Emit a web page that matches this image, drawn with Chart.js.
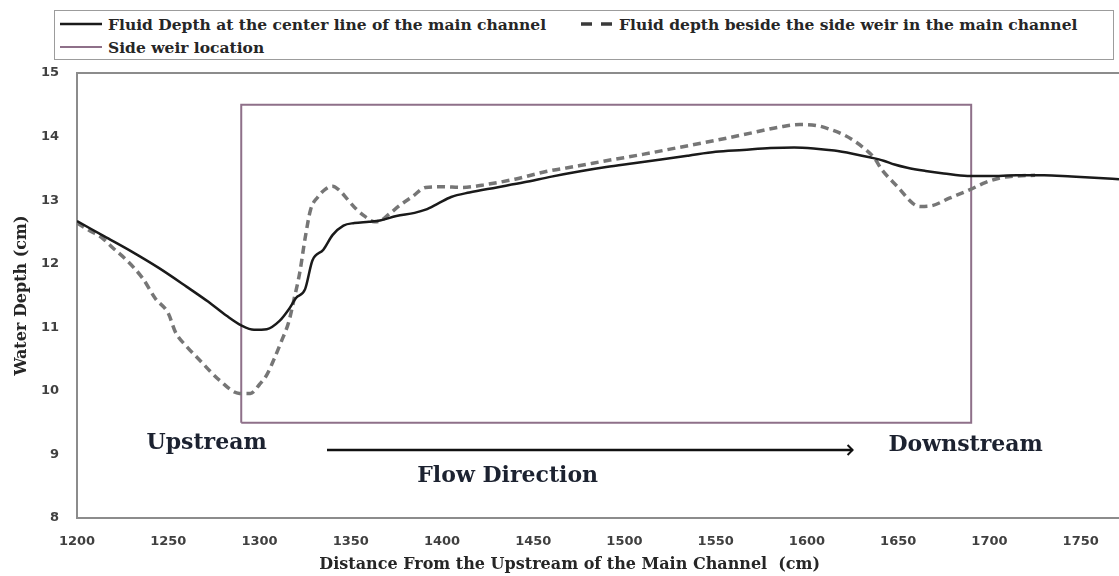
<!DOCTYPE html>
<html>
<head>
<meta charset="utf-8">
<title>Water depth along the main channel</title>
<script src="https://cdn.jsdelivr.net/npm/chart.js@4.4.1/dist/chart.umd.min.js"></script>
<style>
  body { margin: 0; background: #fff; }
  .wrap { position: relative; width: 1119px; height: 576px; }
  #legend {
    position: absolute; left: 54px; top: 10px; width: 1060px; height: 50px;
    box-sizing: border-box; border: 1.5px solid #9c9c9c; background: #fff;
    font: bold 15.5px 'DejaVu Serif', serif; color: #262626;
  }
  #legend .item { position: absolute; display: flex; align-items: center; white-space: nowrap; height: 20px; }
  #legend svg { margin-right: 6px; }
</style>
</head>
<body>
<div class="wrap">
  <canvas id="depthChart" width="1119" height="576"></canvas>
  <div id="legend"></div>
</div>
<script>
// distance from upstream (cm) and depth (cm) along the centre line
const centerX = [1200, 1215, 1230, 1245, 1260, 1272, 1282, 1290, 1297, 1304, 1311, 1316, 1320, 1325,
  1329, 1335, 1340, 1346, 1352, 1360, 1366, 1375, 1385, 1391, 1398, 1405, 1415, 1430, 1445, 1460,
  1475, 1490, 1505, 1520, 1535, 1550, 1565, 1580, 1593, 1605, 1615, 1625, 1635, 1642, 1648, 1655,
  1665, 1675, 1688, 1700, 1715, 1730, 1745, 1760, 1771];
const centerDepth = [12.67, 12.43, 12.19, 11.93, 11.64, 11.40, 11.18, 11.03, 10.96, 10.97, 11.10, 11.28, 11.46, 11.60,
  12.05, 12.22, 12.45, 12.60, 12.64, 12.66, 12.68, 12.75, 12.80, 12.85, 12.95, 13.05, 13.12, 13.20, 13.28, 13.37,
  13.45, 13.52, 13.58, 13.64, 13.70, 13.76, 13.79, 13.82, 13.83, 13.81, 13.78, 13.73, 13.67, 13.62, 13.56, 13.51,
  13.46, 13.42, 13.38, 13.38, 13.39, 13.39, 13.37, 13.35, 13.33];

// depth beside the side weir
const sideX = [1200, 1207, 1214, 1220, 1227, 1236, 1243, 1250, 1254, 1260, 1267, 1278, 1289, 1295, 1300,
  1304, 1308, 1312, 1316, 1319, 1322, 1325, 1328, 1332, 1336, 1340, 1344, 1348, 1353, 1358, 1363,
  1366, 1371, 1377, 1384, 1391, 1400, 1411, 1425, 1440, 1457, 1475, 1490, 1510, 1530, 1550, 1570,
  1585, 1596, 1606, 1614, 1620, 1626, 1632, 1637, 1641, 1650, 1658, 1662, 1668, 1678, 1689, 1698,
  1706, 1715, 1725];
const sideDepth = [12.64, 12.52, 12.40, 12.24, 12.06, 11.77, 11.45, 11.22, 10.92, 10.70, 10.49, 10.17, 9.96, 9.96, 10.10,
  10.25, 10.50, 10.78, 11.08, 11.45, 11.85, 12.40, 12.85, 13.05, 13.17, 13.22, 13.15, 13.02, 12.86, 12.74, 12.66,
  12.67, 12.78, 12.92, 13.06, 13.20, 13.21, 13.20, 13.25, 13.33, 13.45, 13.54, 13.62, 13.72, 13.83, 13.94, 14.06,
  14.15, 14.19, 14.17, 14.10, 14.03, 13.93, 13.80, 13.66, 13.48, 13.20, 12.95, 12.90, 12.91, 13.03, 13.16, 13.28,
  13.35, 13.38, 13.39];

// outline of the side weir
const weirX = [1290, 1290, 1690, 1690, 1290];
const weirDepth = [9.5, 14.5, 14.5, 9.5, 9.5];

const xTicks = [1200, 1250, 1300, 1350, 1400, 1450, 1500, 1550, 1600, 1650, 1700, 1750];
const yTicks = [8, 9, 10, 11, 12, 13, 14, 15];

const labels = [
  'Fluid Depth at the center line of the main channel',
  'Fluid depth beside the side weir in the main channel',
  'Side weir location'
];

function toPoints(xs, ys) {
  return xs.map((x, i) => ({ x: x, y: ys[i] }));
}

const tickFont = { family: "'DejaVu Sans', sans-serif", size: 13, weight: 'bold' };
const titleFont = { family: "'DejaVu Serif', serif", weight: 'bold' };

// grey frame on top, left and bottom of the plot
const framePlugin = {
  id: 'frame',
  beforeDatasetsDraw(chart) {
    const { ctx, chartArea: a } = chart;
    ctx.save();
    ctx.strokeStyle = '#8c8c8c';
    ctx.lineWidth = 2;
    ctx.beginPath();
    ctx.moveTo(a.right + 2, a.top);
    ctx.lineTo(a.left, a.top);
    ctx.lineTo(a.left, a.bottom);
    ctx.lineTo(a.right + 2, a.bottom);
    ctx.stroke();
    ctx.restore();
  }
};

// axis title under the ticks, upstream / downstream labels and the flow arrow
const notesPlugin = {
  id: 'notes',
  afterDraw(chart) {
    const { ctx, scales: { x, y } } = chart;
    ctx.save();
    ctx.textAlign = 'center';
    ctx.textBaseline = 'middle';

    ctx.fillStyle = '#262626';
    ctx.font = "bold 16px 'DejaVu Serif', serif";
    ctx.fillText('Distance From the Upstream of the Main Channel  (cm)', x.getPixelForValue(1470), x.bottom - 11);

    ctx.fillStyle = '#1c2230';
    ctx.font = "bold 22px 'DejaVu Serif', serif";
    ctx.fillText('Upstream', x.getPixelForValue(1271), y.getPixelForValue(9.18));
    ctx.fillText('Downstream', x.getPixelForValue(1687), y.getPixelForValue(9.14));
    ctx.fillText('Flow Direction', x.getPixelForValue(1436), y.getPixelForValue(8.65));

    const x0 = x.getPixelForValue(1337);
    const x1 = x.getPixelForValue(1625);
    const ay = y.getPixelForValue(9.07);
    ctx.strokeStyle = '#111';
    ctx.lineWidth = 2.5;
    ctx.beginPath();
    ctx.moveTo(x0, ay);
    ctx.lineTo(x1, ay);
    ctx.stroke();
    ctx.lineWidth = 2;
    ctx.beginPath();
    ctx.moveTo(x1 - 5, ay - 5);
    ctx.lineTo(x1, ay);
    ctx.lineTo(x1 - 5, ay + 5);
    ctx.stroke();
    ctx.restore();
  }
};

const chart = new Chart(document.getElementById('depthChart'), {
  type: 'line',
  data: {
    datasets: [
      {
        label: labels[0],
        data: toPoints(centerX, centerDepth),
        borderColor: '#1a1a1a',
        borderWidth: 2.5,
        cubicInterpolationMode: 'monotone'
      },
      {
        label: labels[1],
        data: toPoints(sideX, sideDepth),
        borderColor: '#767676',
        borderWidth: 3.5,
        borderDash: [8, 5],
        cubicInterpolationMode: 'monotone'
      },
      {
        label: labels[2],
        data: toPoints(weirX, weirDepth),
        borderColor: '#8e7089',
        borderWidth: 2,
        tension: 0
      }
    ]
  },
  options: {
    responsive: false,
    animation: false,
    layout: { padding: { top: 73, right: 0, bottom: 0, left: 0 } },
    elements: { point: { radius: 0 } },
    plugins: {
      legend: { display: false },
      tooltip: { enabled: false }
    },
    scales: {
      x: {
        type: 'linear',
        min: 1200,
        max: 1771,
        grid: { display: false },
        border: { display: false },
        afterBuildTicks: axis => { axis.ticks = xTicks.map(v => ({ value: v })); },
        afterFit: axis => { axis.height = 58; },
        ticks: {
          font: tickFont,
          color: '#404040',
          padding: 8,
          maxRotation: 0,
          callback: v => String(v)
        }
      },
      y: {
        min: 8,
        max: 15,
        grid: { display: false },
        border: { display: false },
        afterBuildTicks: axis => { axis.ticks = yTicks.map(v => ({ value: v })); },
        afterFit: axis => { axis.width = 77; },
        ticks: { font: tickFont, color: '#404040', padding: 10 },
        title: {
          display: true,
          text: 'Water Depth (cm)',
          font: Object.assign({ size: 16 }, titleFont),
          color: '#262626',
          padding: { top: 12, bottom: 0 }
        }
      }
    }
  },
  plugins: [framePlugin, notesPlugin]
});

// legend box: two entries on the first row, the weir outline below
function buildLegend() {
  const box = document.getElementById('legend');
  const spots = [{ left: 5, top: 13 }, { left: 526, top: 13 }, { left: 5, top: 36 }];
  chart.data.datasets.forEach((ds, i) => {
    const item = document.createElement('div');
    item.className = 'item';
    item.style.left = spots[i].left + 'px';
    item.style.top = (spots[i].top - 10) + 'px';
    const dash = ds.borderDash ? 'stroke-dasharray="11 9"' : '';
    const w = ds.borderDash ? 3.5 : (i === 0 ? 2.5 : 2);
    const color = ds.borderDash ? '#3a3a3a' : ds.borderColor;
    const len = ds.borderDash ? 32 : 42;
    item.innerHTML = '<svg width="' + len + '" height="6"><line x1="0" y1="3" x2="' + len + '" y2="3" stroke="' + color +
      '" stroke-width="' + w + '" ' + dash + '/></svg><span>' + ds.label + '</span>';
    box.appendChild(item);
  });
}
buildLegend();
</script>
</body>
</html>
